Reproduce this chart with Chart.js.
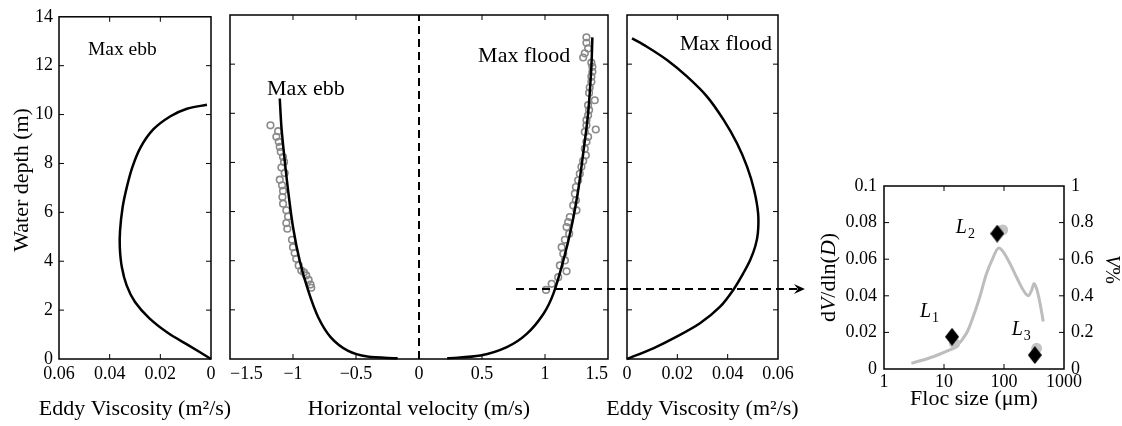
<!DOCTYPE html>
<html>
<head>
<meta charset="utf-8">
<script src="https://cdn.jsdelivr.net/npm/chart.js@4/dist/chart.umd.min.js"></script>
<style>
  html,body{margin:0;padding:0;background:#fff;}
  #wrap{position:relative;width:1122px;height:426px;overflow:hidden;}
  #wrap canvas{position:absolute;left:0;top:0;}
</style>
</head>
<body>
<div id="wrap">
  <canvas id="c1" width="1122" height="426"></canvas>
  <canvas id="c2" width="1122" height="426"></canvas>
  <canvas id="c3" width="1122" height="426"></canvas>
  <canvas id="c4" width="1122" height="426"></canvas>
</div>
<script>
// ---------------- DATA ----------------
const depthTicks = [0, 2, 4, 6, 8, 10, 12, 14];
const viscTicks = [0, 0.02, 0.04, 0.06];
const velTicks = [-1.5, -1, -0.5, 0, 0.5, 1, 1.5];
const flocTicks = [1, 10, 100, 1000];
const dvTicks = [0, 0.02, 0.04, 0.06, 0.08, 0.1];
const pctTicks = [0, 0.2, 0.4, 0.6, 0.8, 1];

// Eddy viscosity, max ebb (m2/s) vs depth (m)
const ebbVisc      = [0, 0.0090, 0.0168, 0.0243, 0.0300, 0.0333, 0.0352, 0.0360, 0.0359, 0.0349, 0.0333, 0.0311, 0.0279, 0.0228, 0.016, 0.0095, 0.0016];
const ebbViscDepth = [0, 0.57, 1.05, 1.66, 2.33, 3.01, 3.76, 4.57, 5.25, 6.2, 7.0, 7.83, 8.64, 9.39, 9.93, 10.24, 10.4];

// Eddy viscosity, max flood
const floodVisc      = [0, 0.01045, 0.01975, 0.029, 0.037, 0.0422, 0.0462, 0.0490, 0.0510, 0.0520, 0.0521, 0.0505, 0.0477, 0.0437, 0.0384, 0.0318, 0.0238, 0.0159, 0.0079, 0.002];
const floodViscDepth = [0, 0.435, 0.908, 1.453, 2.13, 2.81, 3.49, 4.04, 4.6, 5.12, 5.93, 6.88, 7.83, 8.78, 9.73, 10.68, 11.5, 12.17, 12.71, 13.05];

// Modelled horizontal velocity (m/s)
const ebbVelModel      = [-0.17, -0.41, -0.566, -0.70, -0.80, -0.88, -0.947, -1.0, -1.039, -1.066, -1.092, -1.105];
const ebbVelModelDepth = [0.03, 0.1, 0.34, 0.88, 1.7, 2.79, 4.0, 5.37, 6.86, 8.09, 9.45, 10.6];
const floodVelModel      = [0.224, 0.487, 0.697, 0.855, 0.987, 1.066, 1.145, 1.21, 1.263, 1.303, 1.342, 1.368, 1.376];
const floodVelModelDepth = [0.03, 0.14, 0.48, 1.02, 1.83, 2.65, 4.0, 5.37, 6.86, 8.36, 9.99, 11.89, 13.09];

// Observed horizontal velocity (m/s)
const ebbVelObs      = [-1.179, -1.118, -1.132, -1.113, -1.105, -1.097, -1.079, -1.071, -1.092, -1.066, -1.105, -1.087, -1.079, -1.084, -1.079, -1.053, -1.039, -1.053, -1.045, -1.008, -1.0, -0.987, -0.974, -0.955, -0.934, -0.913, -0.895, -0.876, -0.861, -0.855];
const ebbVelObsDepth = [9.51, 9.27, 9.04, 8.84, 8.63, 8.43, 8.22, 8.02, 7.79, 7.57, 7.30, 7.07, 6.84, 6.59, 6.32, 6.05, 5.80, 5.53, 5.30, 4.85, 4.55, 4.31, 4.08, 3.81, 3.60, 3.53, 3.40, 3.22, 3.03, 2.90];
const floodVelObs      = [1.329, 1.329, 1.342, 1.316, 1.303, 1.368, 1.376, 1.376, 1.368, 1.368, 1.355, 1.350, 1.395, 1.342, 1.350, 1.342, 1.329, 1.329, 1.403, 1.316, 1.342, 1.329, 1.316, 1.324, 1.303, 1.289, 1.276, 1.263, 1.245, 1.237, 1.245, 1.224, 1.250, 1.197, 1.184, 1.171, 1.192, 1.158, 1.132, 1.145, 1.158, 1.118, 1.171, 1.105, 1.053, 1.008];
const floodVelObsDepth = [13.09, 12.87, 12.64, 12.44, 12.27, 12.06, 11.89, 11.69, 11.49, 11.28, 11.05, 10.83, 10.53, 10.33, 10.13, 9.92, 9.72, 9.51, 9.34, 9.24, 9.04, 8.84, 8.56, 8.29, 8.06, 7.82, 7.54, 7.27, 7.00, 6.73, 6.46, 6.25, 6.05, 5.78, 5.57, 5.37, 5.10, 4.85, 4.55, 4.28, 4.01, 3.81, 3.57, 3.33, 3.06, 2.81];

// Zero-velocity reference line
const zeroLineVel   = [0, 0];
const zeroLineDepth = [0, 14];

// Floc size distribution (inset)
const flocSize = [2.86, 6.6, 12.5, 16, 23.7, 30.6, 39.6, 51, 66, 80, 97, 126, 163, 210, 254, 288, 316, 349, 398, 451];
const flocDist = [0.0031, 0.0067, 0.0104, 0.0122, 0.0195, 0.0285, 0.0395, 0.052, 0.061, 0.066, 0.064, 0.0576, 0.050, 0.043, 0.040, 0.043, 0.0467, 0.044, 0.036, 0.026];
const classSize    = [13.6, 77, 327];       // L1, L2, L3 diamonds (µm)
const classPct     = [0.176, 0.74, 0.076];  // V % (right axis)
const classObsSize = [15, 95, 350];         // grey circles (µm)
const classObsDist = [0.014, 0.076, 0.0113];// dV/dln(D) (left axis)
const classNames   = ['1', '2', '3'];

// Annotation anchors (data coordinates)
const ARROW = { depth: 2.85, fromVel: 0.77, toVisc: 0.0707 };
const NOTE_EBB_L   = { text: 'Max ebb',   x: 0.035,  y: 12.44 };
const NOTE_EBB_M   = { text: 'Max ebb',   x: -0.898, y: 10.74 };
const NOTE_FLOOD_M = { text: 'Max flood', x: 0.835,  y: 12.1 };
const NOTE_FLOOD_R = { text: 'Max flood', x: 0.0393, y: 12.58 };
const L_LABEL_X = [3.98, 15.7, 134];
const L_LABEL_Y = [0.0286, 0.0742, 0.0186];

// ---------------- LAYOUT / STYLE ----------------
const W = 1122, H = 426;
const FONT = "'Liberation Serif','Times New Roman',Times,serif";
Chart.defaults.font.family = FONT;
Chart.defaults.color = '#000';
Chart.defaults.animation = false;

const AREA1 = {left: 59,  right: 211,  top: 15,  bottom: 359};
const AREA2 = {left: 230, right: 608,  top: 15,  bottom: 359};
const AREA3 = {left: 627, right: 778,  top: 15,  bottom: 359};
const AREA4 = {left: 884, right: 1064, top: 186, bottom: 369};

const pts = (xs, ys) => xs.map((x, i) => ({x: x, y: ys[i]}));
const fmt = v => String(+Number(v).toFixed(4)).replace('-', '\u2212');

function framePlugin() {
  return {
    id: 'frame',
    afterDraw(chart) {
      const {ctx, chartArea: a, scales} = chart;
      const TL = 5;
      ctx.save();
      ctx.strokeStyle = '#000';
      ctx.lineWidth = 1;
      ctx.beginPath();
      scales.x.ticks.forEach(t => {
        const p = scales.x.getPixelForValue(t.value);
        if (p > a.left + 2 && p < a.right - 2) {
          ctx.moveTo(p, a.bottom); ctx.lineTo(p, a.bottom - TL);
          ctx.moveTo(p, a.top); ctx.lineTo(p, a.top + TL);
        }
      });
      const ly = scales.y, ry = scales.y1 || scales.y;
      ly.ticks.forEach(t => {
        const p = ly.getPixelForValue(t.value);
        if (p > a.top + 2 && p < a.bottom - 2) { ctx.moveTo(a.left, p); ctx.lineTo(a.left + TL, p); }
      });
      ry.ticks.forEach(t => {
        const p = ry.getPixelForValue(t.value);
        if (p > a.top + 2 && p < a.bottom - 2) { ctx.moveTo(a.right, p); ctx.lineTo(a.right - TL, p); }
      });
      ctx.stroke();
      ctx.lineWidth = 1.5;
      ctx.strokeRect(a.left, a.top, a.right - a.left, a.bottom - a.top);
      ctx.restore();
    }
  };
}

function drawMixed(ctx, parts, x, y, rot, size) {
  ctx.save();
  ctx.fillStyle = '#000';
  ctx.translate(x, y);
  ctx.rotate(rot);
  ctx.textBaseline = 'middle';
  ctx.textAlign = 'left';
  let total = 0;
  parts.forEach(p => { ctx.font = (p.i ? 'italic ' : '') + size + 'px ' + FONT; total += ctx.measureText(p.t).width; });
  let cx = -total / 2;
  parts.forEach(p => {
    ctx.font = (p.i ? 'italic ' : '') + size + 'px ' + FONT;
    ctx.fillText(p.t, cx, 0);
    cx += ctx.measureText(p.t).width;
  });
  ctx.restore();
}

// x-axis title drawn centred under the plot area without width squeezing
function xTitlePlugin(text, offsetFromBottom) {
  return {
    id: 'xTitle',
    afterDraw(chart) {
      const a = chart.chartArea;
      drawMixed(chart.ctx, [{t: text}], (a.left + a.right) / 2, chart.height - offsetFromBottom, 0, 22);
    }
  };
}
function yTitlePlugin(text, dx, dy) {
  return {
    id: 'yTitle',
    afterDraw(chart) {
      const a = chart.chartArea;
      drawMixed(chart.ctx, [{t: text}], a.left - dx, (a.top + a.bottom) / 2 - dy, -Math.PI / 2, 22);
    }
  };
}

function notesPlugin(items) {
  return {
    id: 'notes',
    afterDatasetsDraw(chart) {
      const ctx = chart.ctx;
      ctx.save();
      ctx.fillStyle = '#000';
      ctx.textBaseline = 'alphabetic';
      items.forEach(it => {
        const px = chart.scales.x.getPixelForValue(it.x);
        const py = chart.scales[it.axis || 'y'].getPixelForValue(it.y);
        ctx.font = (it.italic ? 'italic ' : '') + it.size + 'px ' + FONT;
        ctx.textAlign = it.align || 'center';
        ctx.fillText(it.text, px, py);
        if (it.sub) {
          const w = ctx.measureText(it.text).width;
          ctx.font = it.subSize + 'px ' + FONT;
          ctx.textAlign = 'left';
          ctx.fillText(it.sub, px + w + 1, py + 5);
        }
      });
      ctx.restore();
    }
  };
}

function baseScales(area, o) {
  const s = {
    x: {
      type: o.xType || 'linear', min: o.xMin, max: o.xMax, reverse: !!o.xReverse, position: 'bottom',
      afterFit: sc => { sc.height = H - area.bottom; },
      afterBuildTicks: sc => { sc.ticks = o.xTicks.map(v => ({value: v})); },
      ticks: {autoSkip: false, maxRotation: 0, minRotation: 0, align: o.xAlign || 'center', padding: o.xTickPad, font: {size: 18}, color: '#000', callback: v => fmt(v)},
      grid: {display: false, drawTicks: false}, border: {display: false},
      title: {display: false}
    },
    y: {
      type: 'linear', min: o.yMin, max: o.yMax, position: 'left',
      afterFit: sc => { sc.width = area.left; },
      afterBuildTicks: sc => { sc.ticks = o.yTicks.map(v => ({value: v})); },
      ticks: {display: !!o.yLabels, autoSkip: false, padding: o.yTickPad || 6, font: {size: 18}, color: '#000', callback: v => fmt(v)},
      grid: {display: false, drawTicks: false}, border: {display: false},
      title: {display: false}
    }
  };
  if (o.y1) {
    s.y1 = {
      type: 'linear', min: o.y1.min, max: o.y1.max, position: 'right',
      afterFit: sc => { sc.width = W - area.right; },
      afterBuildTicks: sc => { sc.ticks = o.y1.ticks.map(v => ({value: v})); },
      ticks: {display: true, autoSkip: false, padding: o.y1.pad, font: {size: 18}, color: '#000', callback: v => fmt(v)},
      grid: {display: false, drawTicks: false}, border: {display: false}
    };
  }
  return s;
}

function baseOptions(area, o) {
  return {
    responsive: false, animation: false, events: [],
    layout: {padding: {left: 0, right: o.y1 ? 0 : (W - area.right), top: area.top, bottom: 0}},
    plugins: {legend: {display: false}, tooltip: {enabled: false}},
    scales: baseScales(area, o)
  };
}

const curveStyle = {showLine: true, borderColor: '#000', borderWidth: 2.5, pointRadius: 0, tension: 0.3, clip: false, fill: false};
const obsStyle = {showLine: false, borderColor: '#8a8a8a', backgroundColor: 'rgba(0,0,0,0)', borderWidth: 1.6, pointRadius: 3.3, pointStyle: 'circle'};

// ---------- Panel 1: eddy viscosity, max ebb ----------
new Chart(document.getElementById('c1'), {
  type: 'scatter',
  data: {datasets: [Object.assign({data: pts(ebbVisc, ebbViscDepth)}, curveStyle)]},
  options: baseOptions(AREA1, {
    xMin: 0, xMax: 0.06, xReverse: true, xTicks: viscTicks, xTickPad: 4,
    yMin: 0, yMax: 14, yTicks: depthTicks, yLabels: true, yTickPad: 6
  }),
  plugins: [framePlugin(), xTitlePlugin('Eddy Viscosity (m\u00B2/s)', 17), yTitlePlugin('Water depth (m)', 37, 8), notesPlugin([Object.assign({size: 19.5}, NOTE_EBB_L)])]
});

// ---------- Panel 2: horizontal velocity ----------
new Chart(document.getElementById('c2'), {
  type: 'scatter',
  data: {datasets: [
    Object.assign({data: pts(ebbVelModel, ebbVelModelDepth)}, curveStyle),
    Object.assign({data: pts(floodVelModel, floodVelModelDepth)}, curveStyle),
    Object.assign({data: pts(zeroLineVel, zeroLineDepth)}, curveStyle, {borderWidth: 2, borderDash: [8, 5], tension: 0}),
    Object.assign({data: pts(ebbVelObs, ebbVelObsDepth)}, obsStyle),
    Object.assign({data: pts(floodVelObs, floodVelObsDepth)}, obsStyle)
  ]},
  options: baseOptions(AREA2, {
    xMin: -1.5, xMax: 1.5, xTicks: velTicks, xTickPad: 4, xAlign: 'inner',
    yMin: 0, yMax: 14, yTicks: depthTicks, yLabels: false
  }),
  plugins: [framePlugin(), xTitlePlugin('Horizontal velocity (m/s)', 17), notesPlugin([Object.assign({size: 22}, NOTE_EBB_M), Object.assign({size: 22}, NOTE_FLOOD_M)])]
});

// ---------- Panel 3: eddy viscosity, max flood (+ arrow) ----------
const arrowPlugin = {
  id: 'arrow',
  afterDraw(chart) {
    const c2 = Chart.getChart('c2');
    if (!c2) return;
    const ctx = chart.ctx;
    const y = chart.scales.y.getPixelForValue(ARROW.depth);
    const x0 = c2.scales.x.getPixelForValue(ARROW.fromVel);
    const x1 = chart.scales.x.getPixelForValue(ARROW.toVisc);
    ctx.save();
    ctx.strokeStyle = '#000';
    ctx.lineWidth = 2;
    ctx.setLineDash([8, 5]);
    ctx.beginPath(); ctx.moveTo(x0, y); ctx.lineTo(x1 - 7, y); ctx.stroke();
    ctx.setLineDash([]);
    ctx.fillStyle = '#000';
    ctx.beginPath();
    ctx.moveTo(x1, y); ctx.lineTo(x1 - 11, y - 5); ctx.lineTo(x1 - 7, y); ctx.lineTo(x1 - 11, y + 5);
    ctx.closePath(); ctx.fill();
    ctx.restore();
  }
};
new Chart(document.getElementById('c3'), {
  type: 'scatter',
  data: {datasets: [Object.assign({data: pts(floodVisc, floodViscDepth)}, curveStyle)]},
  options: baseOptions(AREA3, {
    xMin: 0, xMax: 0.06, xTicks: viscTicks, xTickPad: 4,
    yMin: 0, yMax: 14, yTicks: depthTicks, yLabels: false
  }),
  plugins: [framePlugin(), xTitlePlugin('Eddy Viscosity (m\u00B2/s)', 17), notesPlugin([Object.assign({size: 22}, NOTE_FLOOD_R)]), arrowPlugin]
});

// ---------- Panel 4: floc size inset ----------
const diamond = document.createElement('canvas');
diamond.width = 14; diamond.height = 18;
(function () {
  const d = diamond.getContext('2d');
  d.fillStyle = '#000';
  d.beginPath(); d.moveTo(7, 0); d.lineTo(14, 9); d.lineTo(7, 18); d.lineTo(0, 9); d.closePath(); d.fill();
})();

const insetTitles = {
  id: 'insetTitles',
  afterDraw(chart) {
    const a = chart.chartArea, ctx = chart.ctx;
    const cy = (a.top + a.bottom) / 2;
    drawMixed(ctx, [{t: 'd'}, {t: 'V', i: true}, {t: '/dln('}, {t: 'D', i: true}, {t: ')'}], a.left - 55, cy, -Math.PI / 2, 22);
    drawMixed(ctx, [{t: 'V', i: true}, {t: '%'}], a.right + 47, cy - 8, Math.PI / 2, 20);
  }
};
const insetOpts = baseOptions(AREA4, {
  xType: 'logarithmic', xMin: 1, xMax: 1000, xTicks: flocTicks, xTickPad: 2,
  yMin: 0, yMax: 0.1, yTicks: dvTicks, yLabels: true, yTickPad: 7,
  y1: {min: 0, max: 1, ticks: pctTicks, pad: 7}
});
new Chart(document.getElementById('c4'), {
  type: 'scatter',
  data: {datasets: [
    {data: pts(classSize, classPct), yAxisID: 'y1', showLine: false, pointStyle: diamond, pointRadius: 9},
    {data: pts(classObsSize, classObsDist), yAxisID: 'y', showLine: false, pointStyle: 'circle', pointRadius: 5.5, backgroundColor: '#c4c4c4', borderColor: '#c4c4c4', borderWidth: 0},
    {data: pts(flocSize, flocDist), yAxisID: 'y', showLine: true, borderColor: '#bdbdbd', borderWidth: 3, pointRadius: 0, tension: 0.3, clip: false}
  ]},
  options: insetOpts,
  plugins: [framePlugin(), xTitlePlugin('Floc size (\u03BCm)', 27), insetTitles, notesPlugin(classNames.map((n, i) => ({text: 'L', sub: n, italic: true, size: 20, subSize: 14, align: 'left', x: L_LABEL_X[i], y: L_LABEL_Y[i]})))]
});
</script>
</body>
</html>
